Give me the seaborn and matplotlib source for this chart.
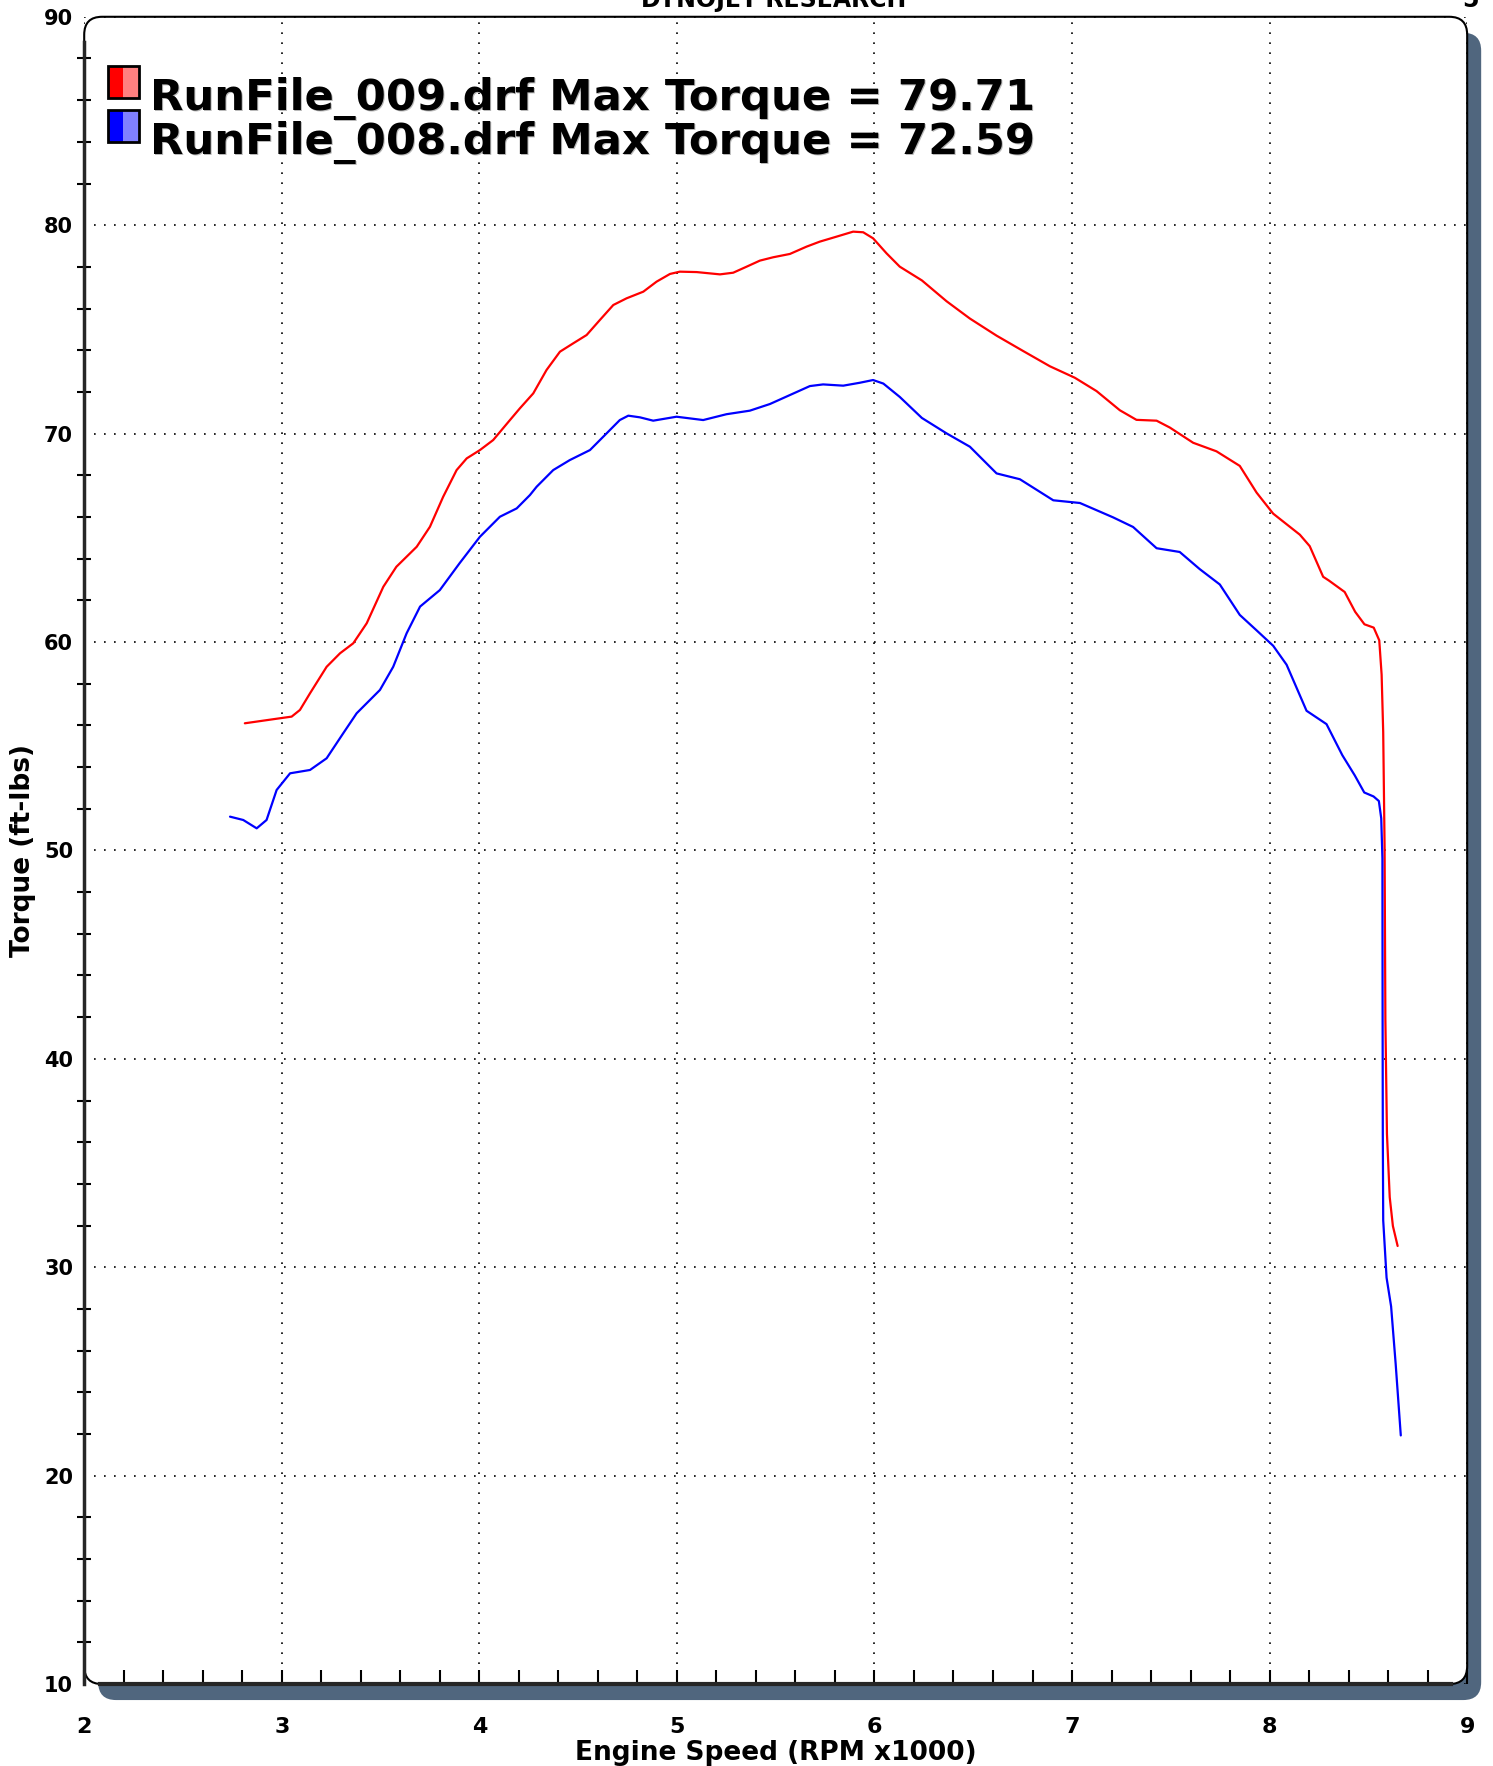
import matplotlib
matplotlib.use("Agg")
import matplotlib.pyplot as plt
import seaborn as sns
import pandas as pd
import numpy as np
from matplotlib.patches import FancyBboxPatch, Rectangle
from matplotlib.ticker import MultipleLocator

# ---- data (RPM x1000, torque ft-lbs) ----
red_rpm = [2.813, 2.99, 3.05, 3.092, 3.143, 3.227, 3.295, 3.362, 3.43, 3.514, 3.58, 3.683,
           3.75, 3.817, 3.885, 3.936, 4.003, 4.07, 4.155, 4.205, 4.273, 4.34, 4.408, 4.475,
           4.543, 4.61, 4.678, 4.745, 4.83, 4.897, 4.965, 5.015, 5.10, 5.218, 5.285, 5.353,
           5.42, 5.487, 5.572, 5.656, 5.723, 5.808, 5.892, 5.943, 5.993, 6.061, 6.128,
           6.24, 6.365, 6.483, 6.618, 6.753, 6.888, 7.014, 7.124, 7.242, 7.326, 7.428,
           7.495, 7.613, 7.731, 7.849, 7.934, 8.018, 8.153, 8.203, 8.271, 8.30, 8.38,
           8.433, 8.48, 8.527, 8.555, 8.567, 8.575, 8.582, 8.586, 8.594, 8.608, 8.624, 8.648]
red_tq = [56.10, 56.34, 56.42, 56.74, 57.54, 58.81, 59.46, 59.94, 60.9, 62.65, 63.61, 64.57,
          65.53, 66.97, 68.25, 68.81, 69.21, 69.69, 70.65, 71.21, 71.93, 73.05, 73.93, 74.33,
          74.73, 75.45, 76.17, 76.49, 76.81, 77.29, 77.66, 77.77, 77.75, 77.64, 77.72, 78.01,
          78.30, 78.46, 78.62, 78.97, 79.21, 79.45, 79.69, 79.66, 79.37, 78.65, 78.01,
          77.35, 76.35, 75.52, 74.70, 73.96, 73.23, 72.68, 72.04, 71.12, 70.66, 70.62,
          70.29, 69.56, 69.15, 68.45, 67.17, 66.16, 65.15, 64.6, 63.13, 62.95, 62.4,
          61.45, 60.85, 60.69, 60.08, 58.43, 55.67, 50.17, 41.90, 36.39, 33.36, 31.98, 31.02]

blue_rpm = [2.738, 2.805, 2.873, 2.923, 2.974, 3.042, 3.143, 3.227, 3.311, 3.379, 3.497,
            3.564, 3.632, 3.70, 3.80, 3.90, 4.003, 4.104, 4.189, 4.256, 4.29, 4.374, 4.458,
            4.56, 4.644, 4.711, 4.754, 4.813, 4.88, 4.998, 5.133, 5.251, 5.369, 5.471,
            5.572, 5.673, 5.74, 5.842, 5.926, 5.993, 6.045, 6.128, 6.24, 6.365, 6.483,
            6.618, 6.736, 6.905, 7.04, 7.208, 7.309, 7.428, 7.545, 7.646, 7.748, 7.849,
            7.934, 8.018, 8.086, 8.187, 8.288, 8.368, 8.431, 8.479, 8.526, 8.553, 8.565,
            8.571, 8.572, 8.573, 8.575, 8.592, 8.615, 8.638, 8.664]
blue_tq = [51.62, 51.46, 51.06, 51.46, 52.90, 53.70, 53.86, 54.42, 55.62, 56.58, 57.70,
           58.81, 60.42, 61.70, 62.49, 63.78, 65.05, 66.01, 66.41, 67.05, 67.45, 68.25, 68.73,
           69.21, 70.01, 70.65, 70.86, 70.78, 70.62, 70.81, 70.65, 70.93, 71.10, 71.42,
           71.85, 72.28, 72.36, 72.30, 72.44, 72.57, 72.40, 71.76, 70.75, 70.01, 69.37,
           68.09, 67.81, 66.80, 66.67, 65.98, 65.52, 64.50, 64.32, 63.50, 62.76, 61.30,
           60.56, 59.82, 58.91, 56.70, 56.06, 54.57, 53.60, 52.78, 52.59, 52.37, 51.54,
           49.61, 41.90, 36.39, 32.25, 29.50, 28.12, 25.37, 21.93]

labels = ["RunFile_009.drf Max Torque = 79.71", "RunFile_008.drf Max Torque = 72.59"]
x_ticks = [2, 3, 4, 5, 6, 7, 8, 9]
y_ticks = [10, 20, 30, 40, 50, 60, 70, 80, 90]

red_df = pd.DataFrame({"rpm": red_rpm, "tq": red_tq})
blue_df = pd.DataFrame({"rpm": blue_rpm, "tq": blue_tq})

sns.set_style("white")
plt.rcParams['font.family'] = ['DejaVu Sans']
plt.rcParams['text.color'] = 'black'
plt.rcParams['axes.labelcolor'] = 'black'
plt.rcParams['xtick.color'] = 'black'
plt.rcParams['ytick.color'] = 'black'

W, H = 1493, 1766
fig = plt.figure(figsize=(W / 100, H / 100), dpi=100)
L, R, B, T = 0.0564, 0.9827, 0.0464, 0.9905
ax = fig.add_axes([L, B, R - L, T - B])
ax.set_zorder(2)
ax.patch.set_visible(False)

# shadow + rounded box (figure coords)
dx, dy = 14 / W, 16 / H
rad = 0.012
shadow = FancyBboxPatch((L + dx, B - dy), (R - L), (T - B),
                        boxstyle=f"round,pad=0,rounding_size={rad}",
                        transform=fig.transFigure, facecolor="#50667e",
                        edgecolor="none", zorder=-2, mutation_aspect=W / H)
fig.patches.append(shadow)
box = FancyBboxPatch((L, B), (R - L), (T - B),
                     boxstyle=f"round,pad=0,rounding_size={rad}",
                     transform=fig.transFigure, facecolor="white",
                     edgecolor="black", linewidth=1.5, zorder=-1, mutation_aspect=W / H)
fig.patches.append(box)

sns.lineplot(data=red_df, x="rpm", y="tq", ax=ax, color="#ff0000", lw=1.6,
             sort=False, estimator=None, zorder=3)
sns.lineplot(data=blue_df, x="rpm", y="tq", ax=ax, color="#0000ff", lw=1.6,
             sort=False, estimator=None, zorder=3)

ax.set_xlim(2, 9)
ax.set_ylim(10, 90)
ax.set_xticks(x_ticks)
ax.set_yticks(y_ticks)
ax.xaxis.set_minor_locator(MultipleLocator(0.2))
ax.yaxis.set_minor_locator(MultipleLocator(2))
ax.grid(True, which="major", color="black", linestyle=(0, (1, 5)), linewidth=1.2)
for s in ["top", "right"]:
    ax.spines[s].set_visible(False)
ax.spines["left"].set_linewidth(2.5)
ax.spines["bottom"].set_linewidth(3)
ax.spines["left"].set_bounds(10, 88.8)
ax.spines["bottom"].set_bounds(2.08, 8.92)
ax.tick_params(axis="y", which="both", direction="inout", length=10, width=1.5,
               labelsize=15, pad=8, left=True)
ax.tick_params(axis="x", which="both", direction="in", length=10, width=1.5,
               labelsize=16, pad=24, bottom=True)
ax.tick_params(axis="y", which="major", length=0)
for lab in ax.get_xticklabels() + ax.get_yticklabels():
    lab.set_fontweight("bold")
ax.set_xlabel("Engine Speed (RPM x1000)", fontsize=19, fontweight="bold", labelpad=2)
ax.set_ylabel("Torque (ft-lbs)", fontsize=19, fontweight="bold", labelpad=6)

# legend (custom)
leg_colors = [("#ff0000", "#ff8080"), ("#0000ff", "#8080ff")]
for i, (lab, (c1, c2)) in enumerate(zip(labels, leg_colors)):
    yb = 0.9445 - i * 0.0249
    x0 = 0.0723
    w, h = 0.0104, 0.0181
    fig.patches.append(Rectangle((x0, yb), w, h, transform=fig.transFigure,
                                 facecolor=c1, edgecolor="none", zorder=4))
    fig.patches.append(Rectangle((x0 + w, yb), w, h, transform=fig.transFigure,
                                 facecolor=c2, edgecolor="none", zorder=4))
    fig.patches.append(Rectangle((x0, yb), 2 * w, h, transform=fig.transFigure,
                                 facecolor="none", edgecolor="black", lw=2, zorder=5))
    ybase = 0.9377 - i * 0.0249
    fig.text(0.1005 + 0.0008, ybase - 0.0008, lab, fontsize=31.2,
             fontweight="bold", color="#b8b8b8", va="baseline", ha="left", zorder=5)
    fig.text(0.1005, ybase, lab, fontsize=31.2,
             fontweight="bold", color="black", va="baseline", ha="left", zorder=6)

fig.text(0.518, 1.0, "DYNOJET RESEARCH", fontsize=17, fontweight="bold",
         ha="center", va="center")
fig.text(0.985, 1.0, "5", fontsize=17, fontweight="bold", ha="center", va="center")

fig.savefig("out.png", dpi=100)
